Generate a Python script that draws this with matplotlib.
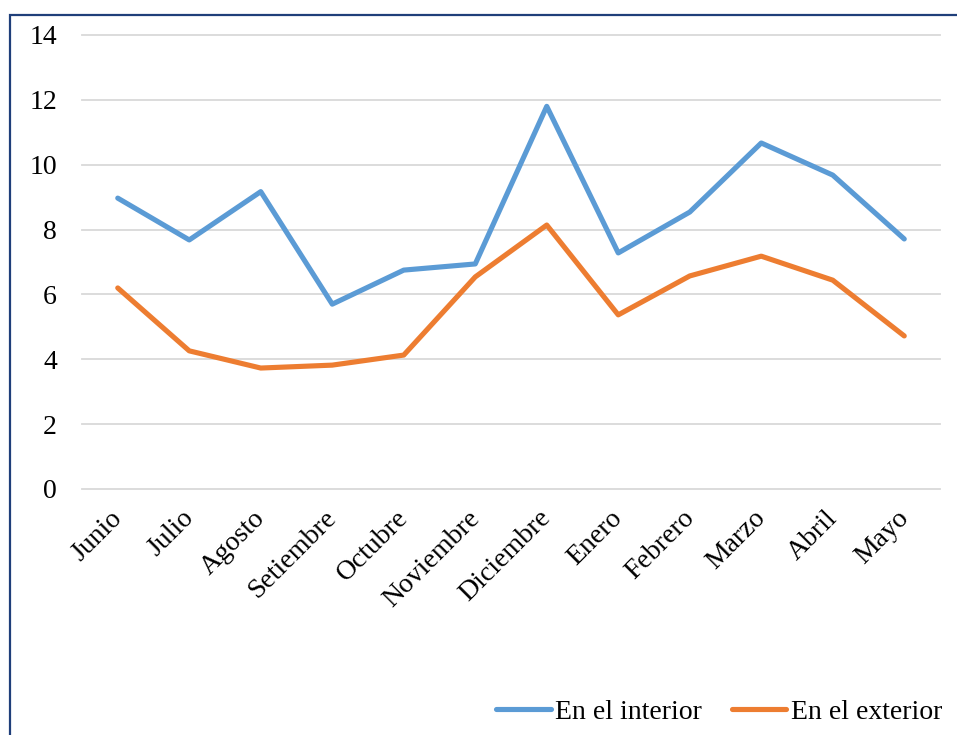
import matplotlib.pyplot as plt
import matplotlib.transforms as mtransforms
from matplotlib.patches import Rectangle

# data
meses = ['Junio', 'Julio', 'Agosto', 'Setiembre', 'Octubre', 'Noviembre',
         'Diciembre', 'Enero', 'Febrero', 'Marzo', 'Abril', 'Mayo']
interior = [8.97, 7.68, 9.17, 5.70, 6.75, 6.94, 11.80, 7.28, 8.54, 10.67, 9.68, 7.71]
exterior = [6.20, 4.26, 3.73, 3.82, 4.13, 6.54, 8.14, 5.37, 6.57, 7.18, 6.44, 4.72]
yticks = [0, 2, 4, 6, 8, 10, 12, 14]

plt.rcParams['font.family'] = ['Liberation Serif', 'DejaVu Serif']

W, H = 957, 735
fs = 20
fig = plt.figure(figsize=(W / 100, H / 100), dpi=100)
ax = fig.add_axes([82 / W, 1 - 489 / H, (940 - 82) / W, (489 - 35) / H])

x = list(range(len(meses)))
ax.plot(x, interior, color='#5B9BD5', lw=3.7, label='En el interior',
        solid_capstyle='round', solid_joinstyle='round', zorder=3)
ax.plot(x, exterior, color='#ED7D31', lw=3.7, label='En el exterior',
        solid_capstyle='round', solid_joinstyle='round', zorder=3)

ax.set_xlim(-0.5, len(meses) - 0.5)
ax.set_ylim(0, 14)
ax.set_yticks(yticks)
ax.set_yticklabels([str(v) for v in yticks], fontsize=fs)
ax.set_xticks(x)
ax.set_xticklabels(meses, fontsize=fs, rotation=45, ha='right', va='top',
                   rotation_mode='anchor')
ax.tick_params(axis='y', length=0, pad=18)
ax.tick_params(axis='x', length=0, pad=7)
# nudge month labels a bit left and down
shift = mtransforms.ScaledTranslation(-6 / 72, -5 / 72, fig.dpi_scale_trans)
for lbl in ax.get_xticklabels():
    lbl.set_transform(lbl.get_transform() + shift)
for s in ax.spines.values():
    s.set_visible(False)
for v in yticks:
    ax.axhline(v, color='#D9D9D9', lw=1.3, zorder=1, clip_on=False)

fig.legend(loc='center right', bbox_to_anchor=(953 / W, 1 - 712 / H), ncol=2,
           frameon=False, fontsize=fs, handlelength=1.95, handletextpad=0.15,
           columnspacing=1.1, borderaxespad=0)

# outer chart border (cropped on right and bottom)
fig.patches.append(Rectangle((9.5 / W, -0.05), 1.2, 1 - 14.5 / H + 0.05,
                             transform=fig.transFigure, fill=False,
                             edgecolor='#1F3F7A', lw=1.6))

fig.savefig('out.png', dpi=100)
